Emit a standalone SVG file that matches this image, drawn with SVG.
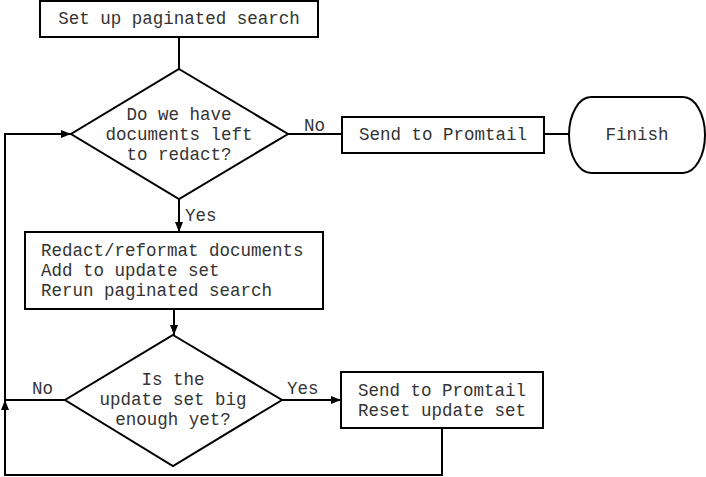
<svg xmlns="http://www.w3.org/2000/svg" width="706" height="477" viewBox="0 0 706 477">
<style>
.s{fill:#fff;stroke:#000;stroke-width:2}
.t{font-family:"Liberation Mono","Courier New",monospace;font-size:17.5px;fill:#333}
.c{text-anchor:middle}
.l{fill:none;stroke:#000;stroke-width:2}
</style>
<defs>
<marker id="a" viewBox="0 0 10 10" refX="10" refY="5" markerWidth="10" markerHeight="10" markerUnits="userSpaceOnUse" orient="auto">
<path d="M0,1 L10,5 L0,9 Z" fill="#000"/>
</marker>
</defs>
<g id="connectors">
<path class="l" d="M179,37 V69"/>
<path class="l" d="M288,134 H342"/>
<path class="l" d="M544,134 H569"/>
<path class="l" d="M179,199 V232" marker-end="url(#a)"/>
<path class="l" d="M174,309 V335" marker-end="url(#a)"/>
<path class="l" d="M282,400 H341" marker-end="url(#a)"/>
<path class="l" d="M65,400 H5"/>
<path class="l" d="M442,428 V475 H5 V400" marker-end="url(#a)"/>
<path class="l" d="M5,400 V134 H71" marker-end="url(#a)"/>
<text class="t" x="304" y="131">No</text>
<text class="t" x="185" y="221">Yes</text>
<text class="t" x="32" y="394">No</text>
<text class="t" x="287" y="394">Yes</text>
</g>
<g id="start">
<rect class="s" x="40" y="1" width="278" height="36"/>
<text class="t c" x="179" y="24">Set up paginated search</text>
</g>
<g id="decision1">
<polygon class="s" points="179,69 288,134 179,199 71,134"/>
<text class="t c" x="179" y="120">Do we have</text>
<text class="t c" x="179" y="140">documents left</text>
<text class="t c" x="179" y="160">to redact?</text>
</g>
<g id="send1">
<rect class="s" x="342" y="117" width="202" height="36"/>
<text class="t c" x="443" y="140">Send to Promtail</text>
</g>
<g id="finish">
<rect class="s" x="569" y="97" width="136" height="76" rx="22" ry="38"/>
<text class="t c" x="637" y="140">Finish</text>
</g>
<g id="redact">
<rect class="s" x="25" y="232" width="298" height="77"/>
<text class="t" x="41" y="256">Redact/reformat documents</text>
<text class="t" x="41" y="276">Add to update set</text>
<text class="t" x="41" y="296">Rerun paginated search</text>
</g>
<g id="decision2">
<polygon class="s" points="173,335 282,400 173,466 65,400"/>
<text class="t c" x="173" y="385">Is the</text>
<text class="t c" x="173" y="405">update set big</text>
<text class="t c" x="173" y="425">enough yet?</text>
</g>
<g id="send2">
<rect class="s" x="341" y="372" width="202" height="56"/>
<text class="t c" x="442" y="396">Send to Promtail</text>
<text class="t c" x="442" y="416">Reset update set</text>
</g>
</svg>
